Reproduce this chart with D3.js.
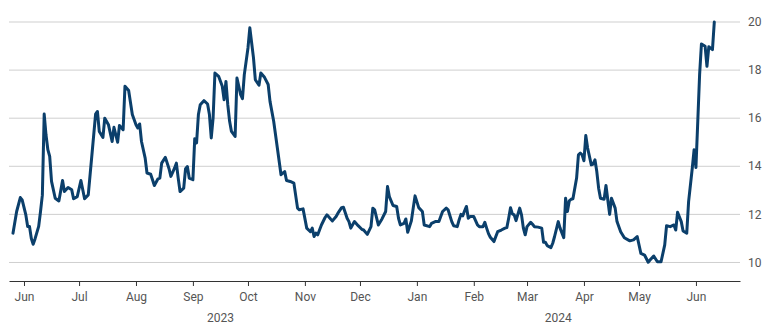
<!DOCTYPE html>
<html>
<head>
<meta charset="utf-8">
<script src="https://cdn.jsdelivr.net/npm/d3@7"></script>
<style>
  html, body { margin: 0; padding: 0; background: #fff; }
  svg { display: block; font-family: Roboto, "Noto Sans", sans-serif; }
</style>
</head>
<body>
<svg id="chart" width="770" height="334"></svg>
<script>
// Daily observations, May 2023 – Jun 2024
const dates = [
  "2023-05-26","2023-05-28","2023-05-30","2023-05-31",
  "2023-06-02","2023-06-03","2023-06-04","2023-06-05","2023-06-06","2023-06-07","2023-06-09","2023-06-10",
  "2023-06-11","2023-06-12","2023-06-13","2023-06-14","2023-06-15","2023-06-16","2023-06-18","2023-06-20",
  "2023-06-22","2023-06-23","2023-06-25","2023-06-27","2023-06-28","2023-06-30",
  "2023-07-02","2023-07-04","2023-07-06","2023-07-08","2023-07-10","2023-07-11","2023-07-12","2023-07-14",
  "2023-07-15","2023-07-17","2023-07-19","2023-07-20","2023-07-22","2023-07-23","2023-07-25","2023-07-26",
  "2023-07-28","2023-07-30",
  "2023-08-01","2023-08-02","2023-08-03","2023-08-04","2023-08-06","2023-08-07","2023-08-09","2023-08-10",
  "2023-08-11","2023-08-13","2023-08-14","2023-08-15","2023-08-17","2023-08-19","2023-08-20","2023-08-22",
  "2023-08-23","2023-08-24","2023-08-25","2023-08-27","2023-08-28","2023-08-29","2023-08-30",
  "2023-09-01","2023-09-02","2023-09-03","2023-09-04","2023-09-05","2023-09-07","2023-09-09","2023-09-10",
  "2023-09-11","2023-09-12","2023-09-13","2023-09-15","2023-09-17","2023-09-18","2023-09-19","2023-09-20",
  "2023-09-21","2023-09-22","2023-09-24","2023-09-25","2023-09-27","2023-09-28","2023-09-29",
  "2023-10-01","2023-10-02","2023-10-04","2023-10-05","2023-10-07","2023-10-08","2023-10-10","2023-10-12",
  "2023-10-13","2023-10-15","2023-10-17","2023-10-19","2023-10-21","2023-10-22","2023-10-24","2023-10-26",
  "2023-10-28","2023-10-29","2023-10-31",
  "2023-11-02","2023-11-04","2023-11-05","2023-11-06","2023-11-07","2023-11-08","2023-11-10","2023-11-12",
  "2023-11-13","2023-11-15","2023-11-16","2023-11-18","2023-11-19","2023-11-21","2023-11-22","2023-11-24",
  "2023-11-25","2023-11-26","2023-11-28","2023-11-30",
  "2023-12-02","2023-12-03","2023-12-05","2023-12-07","2023-12-08","2023-12-09","2023-12-11","2023-12-13",
  "2023-12-15","2023-12-16","2023-12-17","2023-12-19","2023-12-21","2023-12-22","2023-12-23","2023-12-25",
  "2023-12-26","2023-12-27","2023-12-29","2023-12-30","2023-12-31",
  "2024-01-02","2024-01-04","2024-01-05","2024-01-08","2024-01-09","2024-01-11","2024-01-13","2024-01-14",
  "2024-01-15","2024-01-17","2024-01-18","2024-01-20","2024-01-21","2024-01-23","2024-01-24","2024-01-25",
  "2024-01-26","2024-01-27","2024-01-28","2024-01-29","2024-01-30",
  "2024-02-01","2024-02-03","2024-02-04","2024-02-06","2024-02-07","2024-02-08","2024-02-09","2024-02-10",
  "2024-02-12","2024-02-13","2024-02-14","2024-02-16","2024-02-18","2024-02-19","2024-02-20","2024-02-21",
  "2024-02-22","2024-02-23","2024-02-24","2024-02-26","2024-02-27","2024-02-28","2024-02-29",
  "2024-03-01","2024-03-03","2024-03-04","2024-03-05","2024-03-07","2024-03-09","2024-03-10","2024-03-11",
  "2024-03-12","2024-03-14","2024-03-15","2024-03-16","2024-03-18","2024-03-19","2024-03-21","2024-03-22",
  "2024-03-23","2024-03-24","2024-03-25","2024-03-26","2024-03-28","2024-03-29","2024-03-30","2024-03-31",
  "2024-04-01","2024-04-02","2024-04-03","2024-04-05","2024-04-06","2024-04-07","2024-04-08","2024-04-09",
  "2024-04-10","2024-04-12","2024-04-13","2024-04-14","2024-04-15","2024-04-16","2024-04-18","2024-04-19",
  "2024-04-21","2024-04-23","2024-04-26","2024-04-28","2024-04-30",
  "2024-05-02","2024-05-04","2024-05-06","2024-05-07","2024-05-09","2024-05-11","2024-05-13","2024-05-15",
  "2024-05-16","2024-05-18","2024-05-20","2024-05-21","2024-05-22","2024-05-24","2024-05-25","2024-05-27",
  "2024-05-28","2024-05-30","2024-05-31",
  "2024-06-01","2024-06-02","2024-06-03","2024-06-04","2024-06-06","2024-06-07","2024-06-08","2024-06-10",
  "2024-06-11"
];

const values = [
  11.22,12.12,12.70,12.60,
  11.98,11.50,11.50,11.00,10.76,10.98,11.50,12.12,
  12.80,16.17,15.30,14.69,14.41,13.37,12.67,12.56,
  13.41,12.95,13.12,13.02,12.65,12.74,
  13.41,12.65,12.81,14.48,16.17,16.28,15.45,15.20,
  16.00,15.73,15.03,15.62,15.00,15.70,15.52,17.33,
  17.15,16.15,
  15.73,15.59,15.76,15.03,14.34,13.72,13.67,13.44,
  13.20,13.48,13.51,14.13,14.37,13.90,13.58,13.92,
  14.13,13.51,12.95,13.09,13.90,13.99,13.51,
  13.44,15.15,14.97,16.15,16.56,16.73,16.59,16.15,
  15.18,16.00,17.88,17.74,17.33,16.77,17.53,16.56,
  15.87,15.45,15.24,17.67,16.98,16.81,17.81,
  18.92,19.76,18.51,17.60,17.37,17.88,17.70,17.40,
  16.70,15.87,14.76,13.65,13.78,13.41,13.37,13.30,
  12.26,12.19,12.23,
  11.43,11.28,11.43,11.08,11.22,11.15,11.56,11.87,
  11.98,11.81,11.73,11.91,12.05,12.28,12.30,11.84,
  11.70,11.43,11.70,11.53,
  11.38,11.35,11.17,11.49,12.26,12.19,11.56,11.81,
  12.12,13.16,12.74,12.37,12.33,11.84,11.56,11.63,
  11.81,11.26,11.73,12.26,12.77,
  12.28,12.12,11.56,11.49,11.63,11.70,11.70,11.91,
  12.12,12.26,12.19,11.70,11.53,11.49,11.77,12.00,
  11.94,12.15,12.33,11.84,11.91,
  11.91,11.56,11.49,11.49,11.67,11.43,11.20,11.05,
  10.87,11.08,11.28,11.35,11.43,11.45,11.84,12.28,
  12.02,11.98,11.74,12.26,11.98,11.43,11.15,
  11.49,11.67,11.59,11.49,11.47,11.43,10.84,10.84,
  10.70,10.62,10.80,11.08,11.70,11.43,11.03,12.67,
  12.12,12.56,12.63,12.65,13.51,14.48,14.55,14.48,
  14.23,15.28,14.76,14.06,14.09,14.27,13.78,13.09,
  12.67,12.63,13.20,12.60,12.00,12.67,12.26,11.70,
  11.28,11.03,10.90,10.94,11.08,
  10.38,10.31,10.01,10.10,10.27,10.03,10.03,10.73,
  11.53,11.49,11.56,11.35,12.09,11.70,11.31,11.22,
  12.53,13.92,14.69,
  13.95,15.87,17.81,19.09,18.99,18.16,18.97,18.85,
  20.00
];

const yTicks = [10, 12, 14, 16, 18, 20];
const yearLabels = [
  { year: "2023", at: "2023-09-16" },
  { year: "2024", at: "2024-03-18" }
];

const parse = d3.timeParse("%Y-%m-%d");
const series = dates.map((d, i) => ({ date: parse(d), value: values[i] }));

const svg = d3.select("#chart");
const plotLeft = 9, plotRight = 740, plotTop = 22, plotBottom = 281;

const x = d3.scaleTime()
  .domain([new Date(2023, 4, 23, 20), new Date(2024, 5, 25)])
  .range([plotLeft, plotRight]);

const y = d3.scaleLinear()
  .domain([9.23, 20])
  .range([plotBottom, plotTop]);

// horizontal grid
svg.append("g")
  .selectAll("line")
  .data(yTicks)
  .join("line")
  .attr("x1", plotLeft)
  .attr("x2", plotRight)
  .attr("y1", d => y(d))
  .attr("y2", d => y(d))
  .attr("stroke", "#cfcfcf")
  .attr("stroke-width", 1);

// right-hand value labels
svg.append("g")
  .selectAll("text")
  .data(yTicks)
  .join("text")
  .attr("x", 748)
  .attr("y", d => y(d))
  .attr("dy", "0.35em")
  .attr("font-size", 12)
  .attr("fill", "#555")
  .text(d => d);

// bottom time axis
const xAxis = d3.axisBottom(x)
  .ticks(d3.timeMonth.every(1))
  .tickFormat(d3.timeFormat("%b"))
  .tickSize(5)
  .tickPadding(6)
  .tickSizeOuter(0);

const gx = svg.append("g")
  .attr("transform", `translate(0,${plotBottom})`)
  .call(xAxis);
gx.select(".domain").attr("stroke", "#333");
gx.selectAll(".tick line").attr("stroke", "#333");
gx.selectAll(".tick text")
  .attr("font-size", 12)
  .attr("font-family", "Roboto, 'Noto Sans', sans-serif")
  .attr("fill", "#555");

// year labels
svg.append("g")
  .selectAll("text")
  .data(yearLabels)
  .join("text")
  .attr("x", d => x(parse(d.at)))
  .attr("y", 322)
  .attr("text-anchor", "middle")
  .attr("font-size", 12)
  .attr("fill", "#555")
  .text(d => d.year);

// series line
const line = d3.line()
  .x(d => x(d.date))
  .y(d => y(d.value));

svg.append("path")
  .datum(series)
  .attr("d", line)
  .attr("fill", "none")
  .attr("stroke", "#0b3f6b")
  .attr("stroke-width", 3)
  .attr("stroke-linejoin", "round")
  .attr("stroke-linecap", "round");
</script>
</body>
</html>
